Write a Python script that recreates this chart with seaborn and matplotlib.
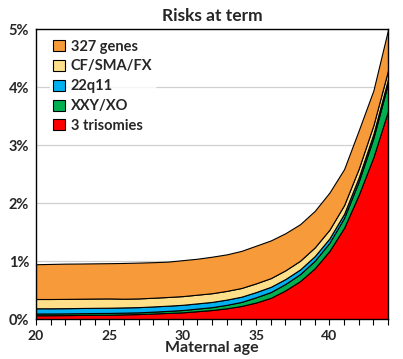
import matplotlib
matplotlib.use('Agg')
from matplotlib import pyplot as plt
import matplotlib.ticker as ticker
import seaborn as sns
import pandas as pd

# maternal age and risk of each group (% at term)
age = list(range(20, 45))
trisomies = [0.07, 0.07, 0.072, 0.075, 0.078, 0.08, 0.085, 0.09, 0.10, 0.11,
             0.12, 0.14, 0.16, 0.19, 0.23, 0.29, 0.37, 0.50, 0.66, 0.88,
             1.18, 1.58, 2.15, 2.80, 3.60]
xxy_xo = [0.03, 0.03, 0.03, 0.03, 0.03, 0.03, 0.03, 0.03, 0.032, 0.035,
          0.04, 0.045, 0.05, 0.06, 0.07, 0.09, 0.10, 0.11, 0.12, 0.13,
          0.14, 0.17, 0.23, 0.33, 0.48]
q22_11 = [0.09, 0.09, 0.09, 0.09, 0.09, 0.09, 0.09, 0.09, 0.09, 0.09,
          0.09, 0.09, 0.09, 0.09, 0.09, 0.09, 0.09, 0.085, 0.08, 0.08,
          0.075, 0.07, 0.07, 0.07, 0.07]
cf_sma_fx = [0.16, 0.16, 0.16, 0.16, 0.16, 0.16, 0.15, 0.15, 0.15, 0.15,
             0.15, 0.15, 0.15, 0.15, 0.15, 0.15, 0.15, 0.15, 0.15, 0.15,
             0.15, 0.15, 0.15, 0.15, 0.15]
genes_327 = [0.60, 0.605, 0.608, 0.607, 0.607, 0.608, 0.617, 0.618, 0.613, 0.61,
             0.62, 0.62, 0.63, 0.63, 0.64, 0.65, 0.65, 0.64, 0.63, 0.63,
             0.64, 0.62, 0.66, 0.60, 0.70]

labels = ['3 trisomies', 'XXY/XO', '22q11', 'CF/SMA/FX', '327 genes']
colors = ['#FF0000', '#00B050', '#00B0F0', '#FFE08A', '#F79A3A']

df = pd.DataFrame({'age': age, '3 trisomies': trisomies, 'XXY/XO': xxy_xo,
                   '22q11': q22_11, 'CF/SMA/FX': cf_sma_fx, '327 genes': genes_327})

sns.set_style('white')
plt.rcParams['font.family'] = ['Lato', 'DejaVu Sans']
plt.rcParams['font.weight'] = 'bold'

fig = plt.figure(figsize=(4.03, 3.59), dpi=100)
ax = fig.add_axes([0.0893, 0.1106, 0.8737, 0.8074])

ax.stackplot(df['age'], *[df[c] for c in labels], labels=labels, colors=colors,
             edgecolor='black', linewidth=0.8, zorder=2)

ax.set_xlim(20, 44)
ax.set_ylim(0, 5)
ax.yaxis.set_major_locator(ticker.MultipleLocator(1))
ax.yaxis.set_major_formatter(ticker.FuncFormatter(lambda v, p: f'{v:.0f}%'))
ax.xaxis.set_major_locator(ticker.MultipleLocator(5))
ax.xaxis.set_minor_locator(ticker.MultipleLocator(1))
ax.grid(axis='y', color='#D0D0D0', linewidth=0.9, zorder=0)
ax.set_axisbelow(True)

ax.tick_params(axis='y', length=0, pad=5, labelsize=10.5)
ax.tick_params(axis='x', which='both', direction='out', length=4, width=0.8,
               color='black', bottom=True, labelsize=10, pad=4)
for s in ax.spines.values():
    s.set_color('black')
    s.set_linewidth(1.0)

ax.set_xlabel('Maternal age', fontsize=11.5, fontweight='bold', labelpad=-1)
ax.set_title('Risks at term', fontsize=12.5, fontweight='bold', pad=6)

h, l = ax.get_legend_handles_labels()
leg = ax.legend(h[::-1], l[::-1], loc='upper left', bbox_to_anchor=(0.02, 1.0),
                frameon=True, fontsize=10.5, handlelength=0.8, handleheight=0.8,
                handletextpad=0.4, labelspacing=0.4, borderpad=0.2)
leg.get_frame().set_facecolor('white')
leg.get_frame().set_edgecolor('white')
for t in leg.get_texts():
    t.set_fontweight('bold')
for p in leg.get_patches():
    p.set_edgecolor('black')
    p.set_linewidth(0.8)

fig.savefig('out.png', dpi=100)
